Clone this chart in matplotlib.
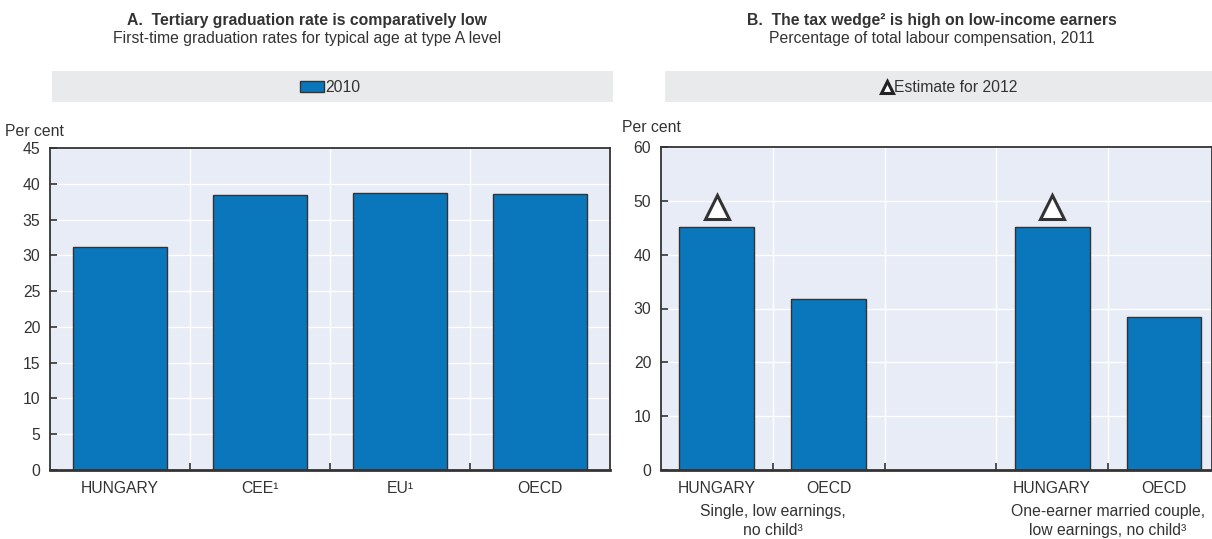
import matplotlib
matplotlib.use("Agg")
import matplotlib.pyplot as plt
from matplotlib.patches import Rectangle
from matplotlib.lines import Line2D
import numpy as np

plt.rcParams['font.family'] = ['Liberation Sans Narrow', 'Liberation Sans', 'DejaVu Sans']

# panel A data
cats_a = ["HUNGARY", "CEE¹", "EU¹", "OECD"]
grad_2010 = [31.2, 38.5, 38.7, 38.6]

# panel B data (slot 2 left empty between the two groups)
cats_b = ["HUNGARY", "OECD", "", "HUNGARY", "OECD"]
wedge_2011 = [45.1, 31.7, np.nan, 45.1, 28.5]
est_2012 = [48.9, np.nan, np.nan, 48.9, np.nan]
groups_b = ["Single, low earnings,\nno child³", "One-earner married couple,\nlow earnings, no child³"]

bar_col = "#0a76bb"
edge_col = "#333333"
bg_col = "#e8ecf6"
band_col = "#e9eaeb"
txt_col = "#333333"
fs = 11.3
W, H = 1212, 539

fig = plt.figure(figsize=(W / 100, H / 100), dpi=100)


def px(x, y):
    return x / W, 1 - y / H


def style_axes(ax, n_slots):
    ax.set_facecolor(bg_col)
    for s in ax.spines.values():
        s.set_color(edge_col)
        s.set_linewidth(1.3)
    ax.spines['bottom'].set_linewidth(2)
    ax.set_xticks(range(n_slots))
    ax.set_xticks(np.arange(0.5, n_slots - 1, 1), minor=True)
    ax.tick_params(axis='x', which='major', length=0, pad=8, labelsize=fs, colors=txt_col)
    ax.tick_params(axis='x', which='minor', direction='in', length=5, width=1.2, color=edge_col)
    ax.tick_params(axis='y', direction='in', length=5, width=1.2, color=edge_col, labelsize=fs,
                   labelcolor=txt_col, pad=7)
    ax.grid(True, which='major', axis='y', color='white', lw=1)
    ax.grid(True, which='minor', axis='x', color='white', lw=1)
    ax.set_axisbelow(True)


# ---- panel A
ax1 = fig.add_axes([50 / W, 1 - 470 / H, 560 / W, 322 / H])
ax1.bar(range(len(cats_a)), grad_2010, width=0.67, color=bar_col, edgecolor=edge_col, lw=1)
ax1.set_xlim(-0.5, 3.5)
ax1.set_ylim(0, 45)
ax1.set_yticks(range(0, 46, 5))
style_axes(ax1, len(cats_a))
ax1.set_xticklabels(cats_a)

# ---- panel B
ax2 = fig.add_axes([661 / W, 1 - 470 / H, 551 / W, 323 / H])
ax2.bar(range(len(cats_b)), wedge_2011, width=0.67, color=bar_col, edgecolor=edge_col, lw=1)
ax2.plot(range(len(cats_b)), est_2012, ls='none', marker='^', ms=17, mfc='white', mec=edge_col, mew=2.2)
ax2.set_xlim(-0.5, 4.43)
ax2.set_ylim(0, 60)
ax2.set_yticks(range(0, 61, 10))
style_axes(ax2, len(cats_b))
ax2.set_xticklabels(cats_b)
for gx, lab in zip([0.5, 3.5], groups_b):
    ax2.text(gx, -0.105, lab, transform=ax2.get_xaxis_transform(), ha='center', va='top',
             fontsize=fs, color=txt_col, linespacing=1.35)

# ---- titles
fig.text(*px(307, 20), "A.  Tertiary graduation rate is comparatively low", ha='center', va='center',
         fontsize=fs, fontweight='bold', color=txt_col)
fig.text(*px(307, 38), "First-time graduation rates for typical age at type A level", ha='center', va='center',
         fontsize=fs, color=txt_col)
fig.text(*px(932, 20), "B.  The tax wedge² is high on low-income earners", ha='center', va='center',
         fontsize=fs, fontweight='bold', color=txt_col)
fig.text(*px(932, 38), "Percentage of total labour compensation, 2011", ha='center', va='center',
         fontsize=fs, color=txt_col)

fig.text(*px(5, 131), "Per cent", ha='left', va='center', fontsize=fs, color=txt_col)
fig.text(*px(622, 128), "Per cent", ha='left', va='center', fontsize=fs, color=txt_col)

# ---- legend bands
fig.patches.append(Rectangle(px(52, 102), 561 / W, 31 / H, transform=fig.transFigure,
                             facecolor=band_col, edgecolor='none', zorder=0))
fig.patches.append(Rectangle(px(665, 102), 547 / W, 31 / H, transform=fig.transFigure,
                             facecolor=band_col, edgecolor='none', zorder=0))
fig.patches.append(Rectangle(px(300, 92), 24 / W, 11 / H, transform=fig.transFigure,
                             facecolor=bar_col, edgecolor=edge_col, lw=1, zorder=2))
fig.text(*px(325, 87), "2010", ha='left', va='center', fontsize=fs, color=txt_col)
fig.lines.append(Line2D([887 / W], [1 - 87 / H], transform=fig.transFigure, marker='^', ms=9,
                        mfc='white', mec='#222222', mew=2.2, ls='none'))
fig.text(*px(894, 87), "Estimate for 2012", ha='left', va='center', fontsize=fs, color=txt_col)

fig.savefig("out.png", dpi=100)
